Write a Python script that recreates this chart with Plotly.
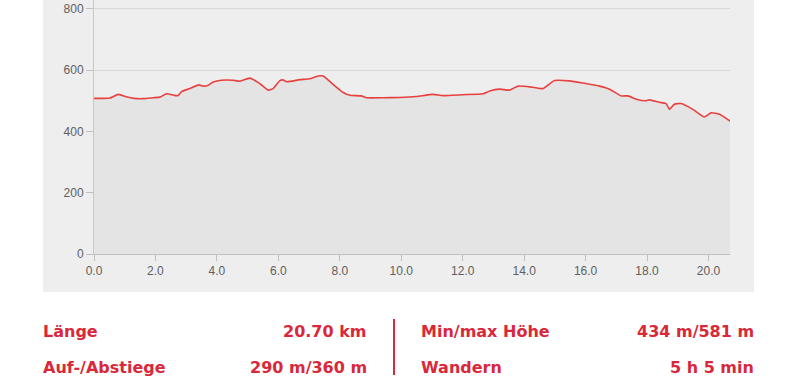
import plotly.graph_objects as go

# Distance (km) and elevation (m) read from the profile
distance_km = [0.00, 0.30, 0.52, 0.79, 1.05, 1.30, 1.60, 1.93, 2.15, 2.36, 2.60, 2.74, 2.85, 3.12,
               3.41, 3.55, 3.72, 3.88, 4.15, 4.53, 4.75, 5.07, 5.34, 5.50, 5.67, 5.83, 6.05, 6.16,
               6.27, 6.70, 7.02, 7.29, 7.46, 7.78, 8.11, 8.33, 8.70, 8.87, 9.40, 9.95, 10.49, 11.03,
               11.36, 12.00, 12.66, 12.88, 13.20, 13.53, 13.80, 14.29, 14.61, 14.99, 15.48, 15.80,
               16.13, 16.45, 16.78, 17.16, 17.38, 17.65, 17.97, 18.08, 18.40, 18.62, 18.73, 18.89,
               19.11, 19.49, 19.87, 20.09, 20.36, 20.70]
elevation_m = [508, 508, 509, 521, 513, 508, 507, 510, 512, 523, 518, 517, 530, 540,
               552, 548, 551, 561, 567, 567, 564, 574, 560, 548, 535, 540, 566, 568,
               562, 569, 572, 581, 581, 554, 527, 518, 516, 510, 510, 511, 514, 521,
               517, 520, 523, 532, 538, 535, 548, 544, 540, 566, 565, 560,
               554, 548, 538, 516, 516, 505, 500, 503, 495, 491, 472, 489,
               491, 472, 447, 461, 456, 434]

x_ticks = [0, 2, 4, 6, 8, 10, 12, 14, 16, 18, 20]
y_ticks = [0, 200, 400, 600, 800]

stats_left = [("Länge", "20.70 km"), ("Auf-/Abstiege", "290 m/360 m")]
stats_right = [("Min/max Höhe", "434 m/581 m"), ("Wandern", "5 h 5 min")]

RED = "#d9283a"
W, H = 800, 383
L, R, T, B = 94, 70, 0, 129
pw, ph = W - L - R, H - T - B

def px(x):
    return (x - L) / pw

def py(y):
    return (H - B - y) / ph

fig = go.Figure()
fig.add_trace(go.Scatter(
    x=distance_km, y=elevation_m, mode="lines",
    line=dict(color="#e8403f", width=1.6, shape="spline", smoothing=0.5),
    fill="tozeroy", fillcolor="#e4e4e4",
    hoverinfo="skip", showlegend=False,
))

shapes = [
    dict(type="rect", xref="paper", yref="paper", x0=px(43), x1=px(754), y0=py(292), y1=1.0,
         fillcolor="#eeeeee", line=dict(width=0), layer="below"),
    dict(type="line", xref="paper", yref="paper", x0=px(394), x1=px(394), y0=py(319), y1=py(375),
         line=dict(color=RED, width=2)),
]

annotations = []
font = dict(family="DejaVu Sans", size=16, color=RED)
rows_y = [331, 367]
for (lab, val), yy in zip(stats_left, rows_y):
    annotations.append(dict(text="<b>%s</b>" % lab, x=px(41), y=py(yy), xref="paper", yref="paper",
                            xanchor="left", yanchor="middle", showarrow=False, font=font))
    annotations.append(dict(text="<b>%s</b>" % val, x=px(369), y=py(yy), xref="paper", yref="paper",
                            xanchor="right", yanchor="middle", showarrow=False, font=font))
for (lab, val), yy in zip(stats_right, rows_y):
    annotations.append(dict(text="<b>%s</b>" % lab, x=px(419), y=py(yy), xref="paper", yref="paper",
                            xanchor="left", yanchor="middle", showarrow=False, font=font))
    annotations.append(dict(text="<b>%s</b>" % val, x=px(756), y=py(yy), xref="paper", yref="paper",
                            xanchor="right", yanchor="middle", showarrow=False, font=font))

fig.update_layout(
    width=W, height=H,
    margin=dict(l=L, r=R, t=T, b=B, pad=0),
    paper_bgcolor="white", plot_bgcolor="#eeeeee",
    shapes=shapes, annotations=annotations,
    font=dict(family="Liberation Sans", size=12, color="#606060"),
)
fig.update_xaxes(
    range=[0, 20.7], tickvals=x_ticks, ticktext=["%.1f" % v for v in x_ticks],
    showgrid=False, zeroline=False, showline=True, linecolor="#c0c0c0", linewidth=1,
    ticks="outside", ticklen=6, tickcolor="#c0c0c0",
)
fig.update_yaxes(
    range=[0, 829], tickvals=y_ticks,
    showgrid=True, gridcolor="#d8d8d8", gridwidth=1, zeroline=False,
    showline=True, linecolor="#c8c8c8", linewidth=1,
    ticks="outside", ticklen=7, tickcolor="#c0c0c0",
)

fig.write_html("out.html")
